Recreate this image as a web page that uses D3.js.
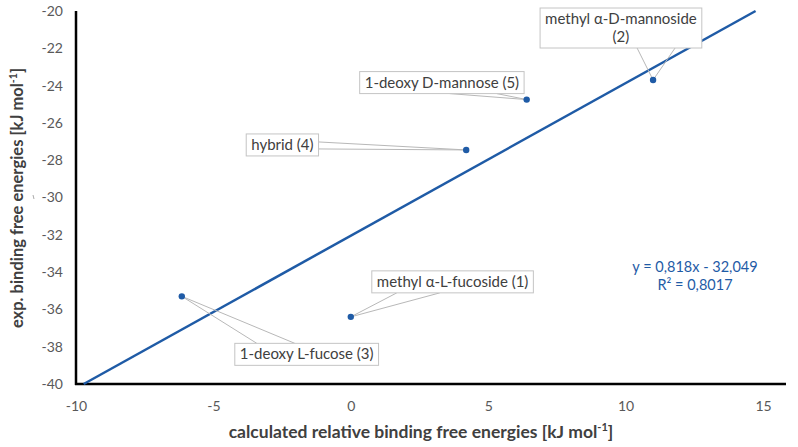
<!DOCTYPE html>
<html>
<head>
<meta charset="utf-8">
<script src="https://cdn.jsdelivr.net/npm/d3@7"></script>
<style>
body { margin: 0; background: #fff; }
svg { display: block; }
text { font-family: Lato, "Open Sans", sans-serif; }
</style>
</head>
<body>
<div id="container"></div>
<script>
const width = 798;
const height = 447;

// data
const compounds = ["methyl α-L-fucoside (1)", "methyl α-D-mannoside (2)", "1-deoxy L-fucose (3)", "hybrid (4)", "1-deoxy D-mannose (5)"];
const calcValues = [0.0, 11.0, -6.15, 4.2, 6.4];
const expValues = [-36.4, -23.7, -35.3, -27.45, -24.75];
const xTicks = [-10, -5, 0, 5, 10, 15];
const yTicks = [-40, -38, -36, -34, -32, -30, -28, -26, -24, -22, -20];
const slope = 0.818;
const intercept = -32.049;
const eqLines = ["y = 0,818x - 32,049", "R² = 0,8017"];

// label placement (offset of box from point, leader anchors on box)
const labelLayout = [
	{ dx: 21, dy: -46, side: "bottom", a: [25, 68] },
	{ dx: -113, dy: -72, side: "bottom", a: [97, 135], twoLine: true },
	{ dx: 53, dy: 47, side: "top", a: [22, 60] },
	{ dx: -220, dy: -16, side: "right", a: [8, 15] },
	{ dx: -167, dy: -28, side: "bottom", a: [90, 137] }
];

const blue = "#1f5ba6";

const x = d3.scaleLinear().domain([-10, 15]).range([76, 763]);
const y = d3.scaleLinear().domain([-40, -20]).range([384, 11]);

const svg = d3.select("#container")
	.append("svg")
	.attr("width", width)
	.attr("height", height);

// tick labels (plain hyphen minus like the original)
svg.append("g")
	.attr("transform", "translate(76,0)")
	.call(d3.axisLeft(y).tickValues(yTicks).tickSize(0).tickPadding(13).tickFormat(d => String(d)))
	.call(g => g.select(".domain").remove())
	.selectAll("text")
	.attr("font-size", 14)
	.attr("fill", "#595959")
	.style("font-family", "Lato, sans-serif");

svg.append("g")
	.attr("transform", "translate(0,384)")
	.call(d3.axisBottom(x).tickValues(xTicks).tickSize(0).tickPadding(17).tickFormat(d => String(d)))
	.call(g => g.select(".domain").remove())
	.selectAll("text")
	.attr("font-size", 14)
	.attr("fill", "#595959")
	.style("font-family", "Lato, sans-serif");

// axis lines
svg.append("line")
	.attr("x1", 76).attr("x2", 76)
	.attr("y1", y(-20)).attr("y2", y(-40) + 1)
	.attr("stroke", "#000").attr("stroke-width", 2.5);
svg.append("line")
	.attr("x1", 75).attr("x2", 786)
	.attr("y1", y(-40)).attr("y2", y(-40))
	.attr("stroke", "#000").attr("stroke-width", 2.5);

// small stray mark near the y axis title
svg.append("line")
	.attr("x1", 33).attr("x2", 34)
	.attr("y1", 195).attr("y2", 199)
	.attr("stroke", "#aaa").attr("stroke-width", 1);

// regression line
const xStart = (-40 - intercept) / slope;
const xEnd = (-20 - intercept) / slope;
svg.append("line")
	.attr("x1", x(xStart)).attr("y1", y(slope * xStart + intercept))
	.attr("x2", x(xEnd)).attr("y2", y(slope * xEnd + intercept))
	.attr("stroke", blue)
	.attr("stroke-width", 2.5);

// labels with leader lines
const labels = svg.append("g");
compounds.forEach((name, i) => {
	const px = x(calcValues[i]);
	const py = y(expValues[i]);
	const lay = labelLayout[i];
	const g = labels.append("g");
	const bx = px + lay.dx;
	const by = py + lay.dy;
	const lines = lay.twoLine ? [name.replace(" (2)", ""), "(2)"] : [name];
	const rect = g.append("rect");
	const txt = g.append("text")
		.attr("font-size", 15)
		.attr("fill", "#404040")
		.attr("text-anchor", "middle");
	lines.forEach((l, k) => {
		txt.append("tspan").attr("x", 0).attr("dy", k === 0 ? 0 : 18).text(l);
	});
	const bb = txt.node().getBBox();
	const w = bb.width + 10;
	const h = lines.length * 18 + 4;
	txt.attr("transform", `translate(${bx + w / 2},${by + 16})`);
	rect.attr("x", bx).attr("y", by).attr("width", w).attr("height", h)
		.attr("fill", "#fff").attr("stroke", "#c4c4c4").attr("stroke-width", 1);
	lay.a.forEach(a => {
		let ax, ay;
		if (lay.side === "bottom") { ax = bx + a; ay = by + h; }
		else if (lay.side === "top") { ax = bx + a; ay = by; }
		else { ax = bx + w; ay = by + a; }
		labels.insert("line", ":first-child")
			.attr("x1", ax).attr("y1", ay)
			.attr("x2", px).attr("y2", py)
			.attr("stroke", "#b8b8b8").attr("stroke-width", 1);
	});
});

// points
svg.append("g")
	.selectAll("circle")
	.data(calcValues)
	.enter()
	.append("circle")
	.attr("cx", d => x(d))
	.attr("cy", (d, i) => y(expValues[i]))
	.attr("r", 3.2)
	.attr("fill", blue);

// equation
svg.append("text")
	.attr("text-anchor", "middle")
	.attr("font-size", 14.5)
	.attr("fill", blue)
	.selectAll("tspan")
	.data(eqLines)
	.enter()
	.append("tspan")
	.attr("x", 695)
	.attr("y", (d, i) => 272 + i * 18)
	.text(d => d);

// axis titles
const xTitle = svg.append("text")
	.attr("x", 421).attr("y", 438)
	.attr("text-anchor", "middle")
	.attr("font-size", 17.5)
	.attr("font-weight", "bold")
	.attr("fill", "#404040");
xTitle.append("tspan").text("calculated relative binding free energies [kJ mol");
xTitle.append("tspan").attr("font-size", 11).attr("dy", -7).text("-1");
xTitle.append("tspan").attr("dy", 7).text("]");

const yTitle = svg.append("text")
	.attr("transform", "translate(23,198) rotate(-90)")
	.attr("text-anchor", "middle")
	.attr("font-size", 16.5)
	.attr("font-weight", "bold")
	.attr("fill", "#404040");
yTitle.append("tspan").text("exp. binding free energies [kJ mol");
yTitle.append("tspan").attr("font-size", 10.5).attr("dy", -6).text("-1");
yTitle.append("tspan").attr("dy", 6).text("]");
</script>
</body>
</html>
